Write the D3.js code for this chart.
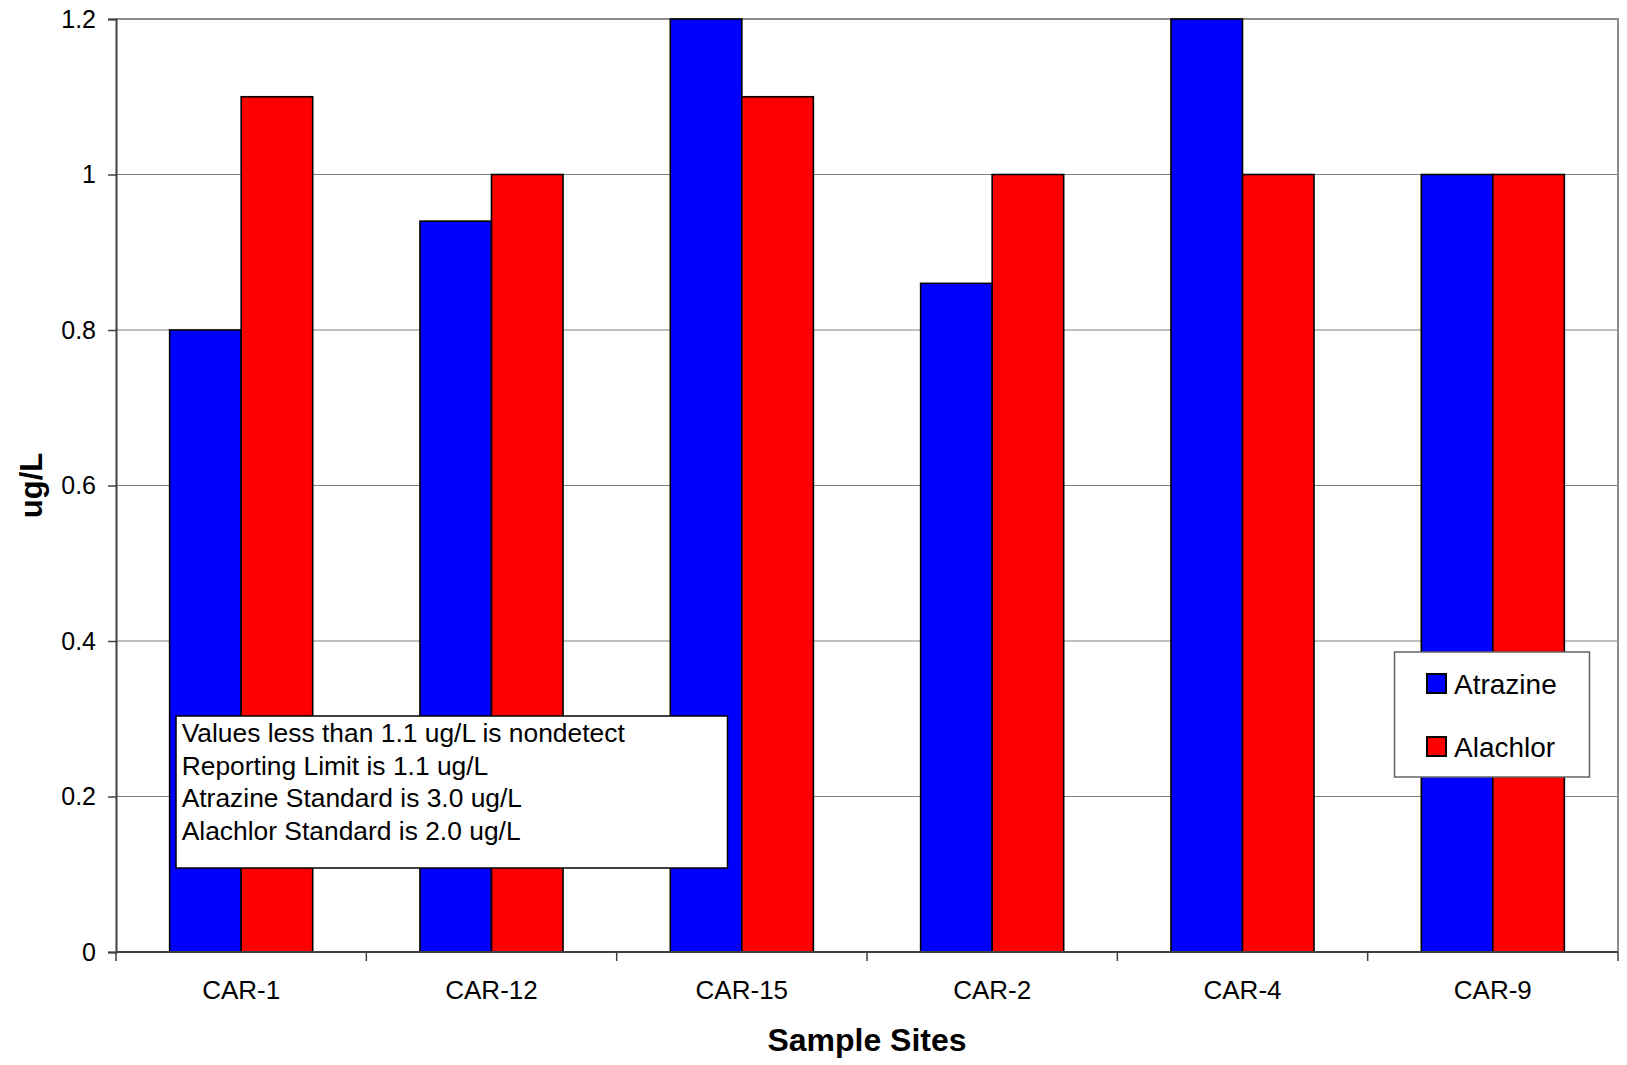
<!DOCTYPE html>
<html>
<head>
<meta charset="utf-8">
<script src="https://cdn.jsdelivr.net/npm/d3@7"></script>
<style>
  html, body { margin: 0; padding: 0; background: #fff; }
  svg { display: block; font-family: Arial, "Liberation Sans", sans-serif; }
</style>
</head>
<body>
<svg id="chart" width="1627" height="1065"></svg>
<script>
// Sampling sites and measured concentrations (ug/L)
const sites = ["CAR-1", "CAR-12", "CAR-15", "CAR-2", "CAR-4", "CAR-9"];
const atrazine = [0.8, 0.94, 1.2, 0.86, 1.2, 1.0];
const alachlor = [1.1, 1.0, 1.1, 1.0, 1.0, 1.0];
const seriesNames = ["Atrazine", "Alachlor"];
const seriesColors = ["#0000ff", "#ff0000"];
const yTicks = [0, 0.2, 0.4, 0.6, 0.8, 1, 1.2];
const noteLines = [
  "Values less than 1.1 ug/L is nondetect",
  "Reporting Limit is 1.1 ug/L",
  "Atrazine Standard is 3.0 ug/L",
  "Alachlor Standard is 2.0 ug/L"
];

const svg = d3.select("#chart");
const plot = { left: 116, top: 19, right: 1618, bottom: 952 };

const x = d3.scaleBand().domain(sites).range([plot.left, plot.right]).paddingInner(0).paddingOuter(0);
const barW = x.bandwidth() / 3.5;
const xs = d3.scaleBand().domain(seriesNames).range([0, barW * 2]);
const y = d3.scaleLinear().domain([0, 1.2]).range([plot.bottom, plot.top]);

// Horizontal gridlines
svg.append("g").selectAll("line").data(yTicks.filter(t => t > 0 && t < 1.2)).join("line")
  .attr("x1", plot.left).attr("x2", plot.right)
  .attr("y1", d => y(d)).attr("y2", d => y(d))
  .attr("stroke", "#808080").attr("stroke-width", 1.2);

// Plot frame (top and right)
svg.append("path")
  .attr("d", `M${plot.left},${plot.top}H${plot.right}V${plot.bottom}`)
  .attr("fill", "none").attr("stroke", "#8c8c8c").attr("stroke-width", 2);

// Bars
const rows = sites.map((s, i) => ({ site: s, values: [atrazine[i], alachlor[i]] }));
const groups = svg.append("g").selectAll("g").data(rows).join("g")
  .attr("transform", d => `translate(${x(d.site) + (x.bandwidth() - barW * 2) / 2},0)`);
groups.selectAll("rect").data(d => d.values.map((v, j) => ({ v, j }))).join("rect")
  .attr("x", d => xs(seriesNames[d.j]))
  .attr("y", d => y(d.v))
  .attr("width", barW)
  .attr("height", d => y(0) - y(d.v))
  .attr("fill", d => seriesColors[d.j])
  .attr("stroke", "#000").attr("stroke-width", 1.6);

// Y axis
const yAxis = d3.axisLeft(y).tickValues(yTicks).tickFormat(d => d3.format("")(d)).tickSize(8).tickPadding(12);
const yg = svg.append("g").attr("transform", `translate(${plot.left},0)`).call(yAxis);
yg.select(".domain").attr("stroke", "#404040").attr("stroke-width", 2);
yg.selectAll(".tick line").attr("stroke", "#404040").attr("stroke-width", 1.5);
yg.selectAll(".tick text").attr("font-size", 25).attr("fill", "#000")
  .attr("font-family", "Arial, 'Liberation Sans', sans-serif");

// X axis: ticks at category boundaries, labels centred in each category
const xg = svg.append("g");
xg.append("line").attr("x1", plot.left).attr("x2", plot.right)
  .attr("y1", plot.bottom).attr("y2", plot.bottom)
  .attr("stroke", "#404040").attr("stroke-width", 2);
const bounds = sites.map(s => x(s)).concat([plot.right]);
xg.selectAll("line.tk").data(bounds).join("line").attr("class", "tk")
  .attr("x1", d => d).attr("x2", d => d)
  .attr("y1", plot.bottom).attr("y2", plot.bottom + 9)
  .attr("stroke", "#404040").attr("stroke-width", 1.5);
xg.selectAll("text").data(sites).join("text")
  .attr("x", d => x(d) + x.bandwidth() / 2)
  .attr("y", 999)
  .attr("text-anchor", "middle")
  .attr("font-size", 26)
  .text(d => d);

// Axis titles
svg.append("text")
  .attr("x", (plot.left + plot.right) / 2).attr("y", 1051)
  .attr("text-anchor", "middle").attr("font-size", 32).attr("font-weight", "bold")
  .text("Sample Sites");
svg.append("text")
  .attr("transform", `translate(42,${(plot.top + plot.bottom) / 2}) rotate(-90)`)
  .attr("text-anchor", "middle").attr("font-size", 31).attr("font-weight", "bold")
  .text("ug/L");

// Notes box
const note = svg.append("g");
note.append("rect")
  .attr("x", 176).attr("y", 716).attr("width", 551.5).attr("height", 152)
  .attr("fill", "#fff").attr("stroke", "#000").attr("stroke-width", 1.5);
note.selectAll("text").data(noteLines).join("text")
  .attr("x", 181.7).attr("y", (d, i) => 741.7 + i * 32.8)
  .attr("font-size", 26.4)
  .text(d => d);

// Legend
const leg = svg.append("g");
leg.append("rect")
  .attr("x", 1394.5).attr("y", 652).attr("width", 195).attr("height", 125)
  .attr("fill", "#fff").attr("stroke", "#666").attr("stroke-width", 1.5);
const li = leg.selectAll("g").data(seriesNames).join("g")
  .attr("transform", (d, i) => `translate(1427,${674 + i * 63})`);
li.append("rect").attr("width", 19).attr("height", 19)
  .attr("fill", (d, i) => seriesColors[i]).attr("stroke", "#000").attr("stroke-width", 2);
li.append("text").attr("x", 27).attr("y", 19.5).attr("font-size", 28).text(d => d);
</script>
</body>
</html>
